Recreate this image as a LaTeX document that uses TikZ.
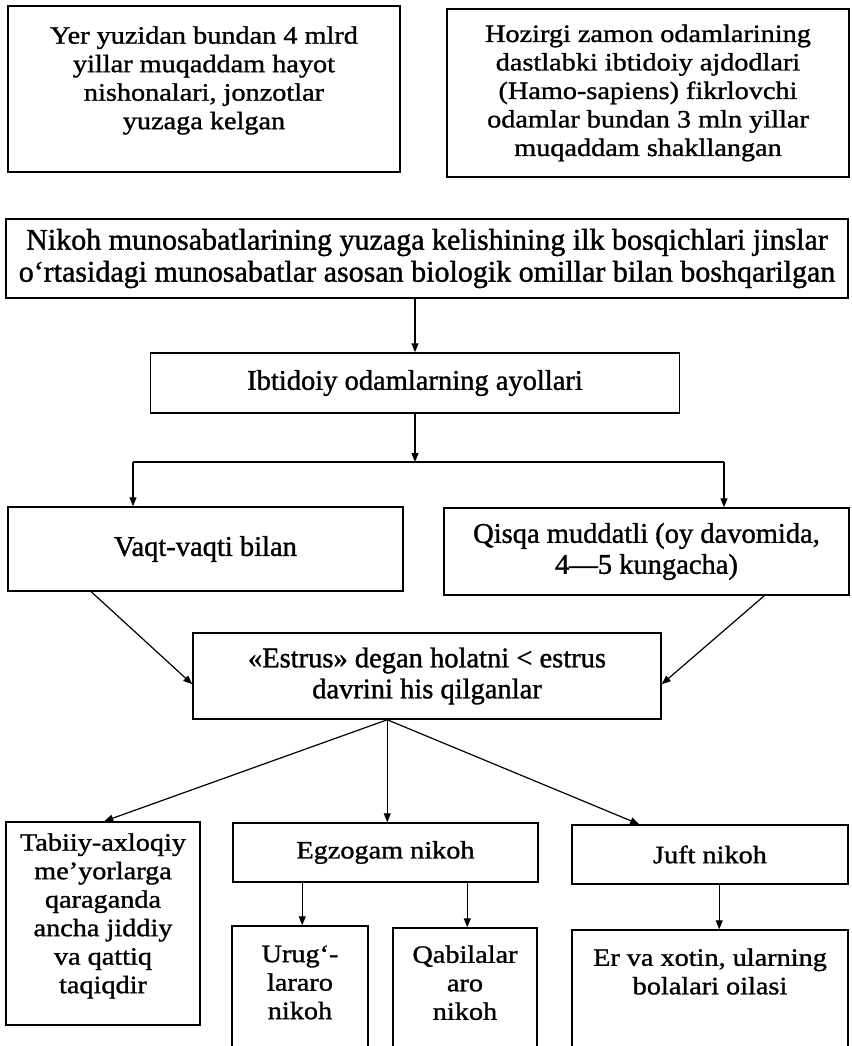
\documentclass[tikz,border=0pt]{standalone}
\usepackage{fontspec}
\setmainfont{Liberation Serif}[FakeBold=1.2]
\newfontfamily\widefont[FakeStretch=1.13,FakeBold=1.2]{Liberation Serif}
\newfontfamily\narrowfont[FakeBold=1.2]{Liberation Serif}
\usetikzlibrary{arrows.meta,calc}
\begin{document}
\begin{tikzpicture}[x=1pt,y=-1pt,
  box/.style={draw, line width=1.5pt, inner sep=0pt, align=center},
  wtxt/.style={font=\widefont\fontsize{25}{28.5}\selectfont},
  ntxt/.style={font=\narrowfont\fontsize{28.5}{31}\selectfont},
  btxt/.style={font=\narrowfont\fontsize{30}{32}\selectfont},
  arr/.style={line width=1.2pt, -{Triangle[length=9pt,width=7pt]}},
  ln/.style={line width=1.2pt}]
\path[use as bounding box] (0,0) rectangle (851,1046);
\clip (0,0) rectangle (851,1046);

\node[box,wtxt,minimum width=392,minimum height=166] (b1) at (204,89)
  {Yer yuzidan bundan 4 mlrd\\yillar muqaddam hayot\\nishonalari, jonzotlar\\yuzaga kelgan\\[-6pt]};
\node[box,wtxt,minimum width=402,minimum height=168] (b2) at (648,93)
  {Hozirgi zamon odamlarining\\dastlabki ibtidoiy ajdodlari\\(Hamo-sapiens) fikrlovchi\\odamlar bundan 3 mln yillar\\muqaddam shakllangan};
\node[box,btxt,minimum width=842,minimum height=79] (b3) at (427,258.5)
  {Nikoh munosabatlarining yuzaga kelishining ilk bosqichlari jinslar\\o‘rtasidagi munosabatlar asosan biologik omillar bilan boshqarilgan};
\node[box,ntxt,minimum width=529,minimum height=60] (b4) at (415,383)
  {Ibtidoiy odamlarning ayollari};
\node[box,ntxt,minimum width=395,minimum height=84] (b5) at (205.5,549)
  {Vaqt-vaqti bilan};
\node[box,ntxt,minimum width=405,minimum height=87] (b6) at (646.5,551.5)
  {Qisqa muddatli (oy davomida,\\4—5 kungacha)};
\node[box,ntxt,minimum width=468,minimum height=86] (b7) at (427,676)
  {«Estrus» degan holatni \textless{} estrus\\davrini his qilganlar};
\node[box,wtxt,minimum width=194,minimum height=203] (b8) at (103,923.5)
  {Tabiiy-axloqiy\\me’yorlarga\\qaraganda\\ancha jiddiy\\va qattiq\\taqiqdir\\[-8pt]};
\node[box,wtxt,minimum width=305,minimum height=59] (b9) at (385.5,852.5)
  {Egzogam nikoh};
\node[box,wtxt,minimum width=276,minimum height=59] (b10) at (710,854.5)
  {Juft nikoh};
\node[box,minimum width=136,minimum height=134] (b11) at (300,993) {};
\node[wtxt,align=center,anchor=north,inner sep=0pt] (t11) at ([yshift=-20pt]b11.north)
  {Urug‘-\\lararo\\nikoh};
\node[box,minimum width=144,minimum height=132] (b12) at (465,994) {};
\node[wtxt,align=center,anchor=north,inner sep=0pt] (t12) at ([yshift=-18pt]b12.north)
  {Qabilalar\\aro\\nikoh};
\node[box,minimum width=276,minimum height=130] (b13) at (710,995) {};
\node[wtxt,align=center,anchor=north,inner sep=0pt] (t13) at ([yshift=-19pt]b13.north)
  {Er va xotin, ularning\\bolalari oilasi};

% connectors
\draw[arr] (b3.south -| b4.north) -- (b4.north);
\coordinate (j) at (b4.south |- 0,462);
\coordinate (jl) at (133,462);
\coordinate (jr) at (724,462);
\draw[arr] (b4.south) -- (j);
\draw[ln] (jl) -- (jr);
\draw[arr] (jl) -- (jl |- b5.north);
\draw[arr] (jr) -- (jr |- b6.north);
\draw[arr] ([xshift=84pt]b5.south west) -- ([yshift=-52pt]b7.north west);
\draw[arr] ([xshift=321pt]b6.south west) -- ([yshift=-52pt]b7.north east);
\coordinate (br) at ([xshift=195pt]b7.south west);
\draw[arr] (br) -- ([xshift=99pt]b8.north west);
\draw[arr] (br) -- (br |- b9.north);
\draw[arr] (br) -- ([xshift=68pt]b10.north west);
\draw[arr] ([xshift=70pt]b9.south west) -- ([xshift=70pt]b9.south west |- b11.north);
\draw[arr] ([xshift=235pt]b9.south west) -- ([xshift=235pt]b9.south west |- b12.north);
\draw[arr] ([xshift=148pt]b10.south west) -- ([xshift=148pt]b10.south west |- b13.north);
\end{tikzpicture}
\end{document}
